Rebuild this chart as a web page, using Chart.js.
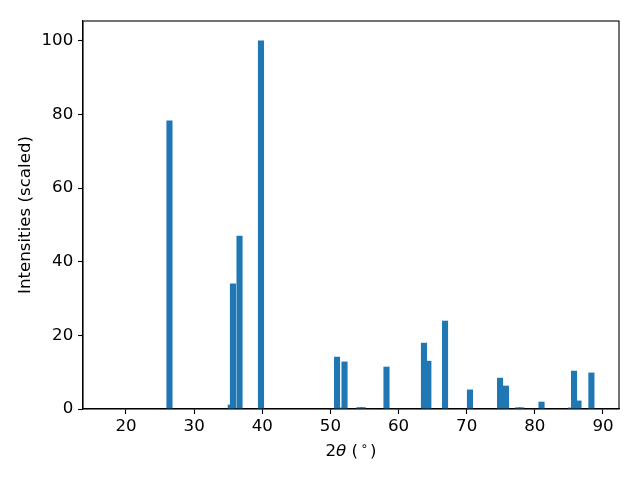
<!DOCTYPE html>
<html>
<head>
<meta charset="utf-8">
<script src="https://cdn.jsdelivr.net/npm/chart.js@4/dist/chart.umd.min.js"></script>
<style>
  html, body { margin: 0; padding: 0; background: #fff; }
  #wrap { width: 640px; height: 480px; }
</style>
</head>
<body>
<div id="wrap"><canvas id="xrd"></canvas></div>
<script>
// peak positions (2theta, degrees) and scaled intensities
const twoTheta = [26.38, 35.37, 35.70, 36.66, 39.81, 50.97, 51.60, 52.07, 54.25, 54.75,
                  58.23, 63.73, 64.37, 66.82, 70.48, 74.89, 75.77, 77.55, 78.00, 80.98,
                  85.30, 85.75, 86.40, 88.30];
const intensity = [78.3, 1.1, 34.0, 47.0, 100.0, 14.1, 0.3, 12.8, 0.4, 0.4,
                   11.4, 17.9, 13.0, 23.9, 5.2, 8.4, 6.25, 0.35, 0.35, 1.9,
                   0.3, 10.3, 2.2, 9.8];
const xTicks = [20, 30, 40, 50, 60, 70, 80, 90];
const yTicks = [0, 20, 40, 60, 80, 100];

// taller peaks drawn last so they sit on top, like the original
const points = twoTheta.map((x, i) => ({ x: x, y: intensity[i] }))
  .sort((a, b) => a.y - b.y);

const FS = 16.67;
const font = { family: 'DejaVu Sans', size: FS };

const frame = {
  id: 'frame',
  afterDraw(chart) {
    const { ctx, chartArea: a } = chart;
    ctx.save();
    ctx.strokeStyle = '#000';
    ctx.lineWidth = 1.1;
    ctx.strokeRect(a.left, a.top, a.right - a.left, a.bottom - a.top);

    // x axis label: 2θ (°) with italic theta and raised ring, like mathtext
    const reg = FS + 'px "DejaVu Sans"';
    const parts = [
      { t: '2', f: reg, dy: 0 },
      { t: 'θ', f: 'italic ' + reg, dy: 0 },
      { t: ' (', f: reg, dy: 0 },
      { t: '\u2009∘\u2009', f: (FS * 0.7) + 'px "DejaVu Sans"', dy: -6 },
      { t: ')', f: reg, dy: 0 }
    ];
    let w = 0;
    parts.forEach(p => { ctx.font = p.f; p.w = ctx.measureText(p.t).width; w += p.w; });
    let x = (a.left + a.right) / 2 - w / 2;
    const y = 456;
    ctx.fillStyle = '#000';
    ctx.textBaseline = 'alphabetic';
    ctx.textAlign = 'left';
    parts.forEach(p => { ctx.font = p.f; ctx.fillText(p.t, x, y + p.dy); x += p.w; });
    ctx.restore();
  }
};

const chart = new Chart(document.getElementById('xrd'), {
  type: 'bar',
  data: {
    datasets: [{
      data: points,
      backgroundColor: '#1f77b4',
      borderWidth: 0,
      barThickness: 5.45
    }]
  },
  options: {
    responsive: true,
    maintainAspectRatio: false,
    animation: false,
    layout: { padding: { top: 21, right: 21, left: 0, bottom: 0 } },
    plugins: { legend: { display: false }, tooltip: { enabled: false } },
    scales: {
      x: {
        type: 'linear',
        offset: false,
        min: 13.69,
        max: 92.35,
        afterBuildTicks: s => { s.ticks = xTicks.map(v => ({ value: v })); },
        afterFit: s => { s.height = 71; },
        grid: { offset: false, drawOnChartArea: false, tickLength: 5, color: '#000', tickWidth: 1.1 },
        border: { color: '#000', width: 1.1 },
        ticks: { color: '#000', font: font, padding: 3, maxRotation: 0 },
        title: { display: false }
      },
      y: {
        min: 0,
        max: 105.4,
        afterBuildTicks: s => { s.ticks = yTicks.map(v => ({ value: v })); },
        afterFit: s => { s.width = 83; },
        grid: { drawOnChartArea: false, tickLength: 5, color: '#000', tickWidth: 1.1 },
        border: { color: '#000', width: 1.1 },
        ticks: { color: '#000', font: font, padding: 4.7 },
        title: { display: true, text: 'Intensities (scaled)', color: '#000', font: font, padding: { top: 15.5, bottom: 0 } }
      }
    }
  },
  plugins: [frame]
});
</script>
</body>
</html>
